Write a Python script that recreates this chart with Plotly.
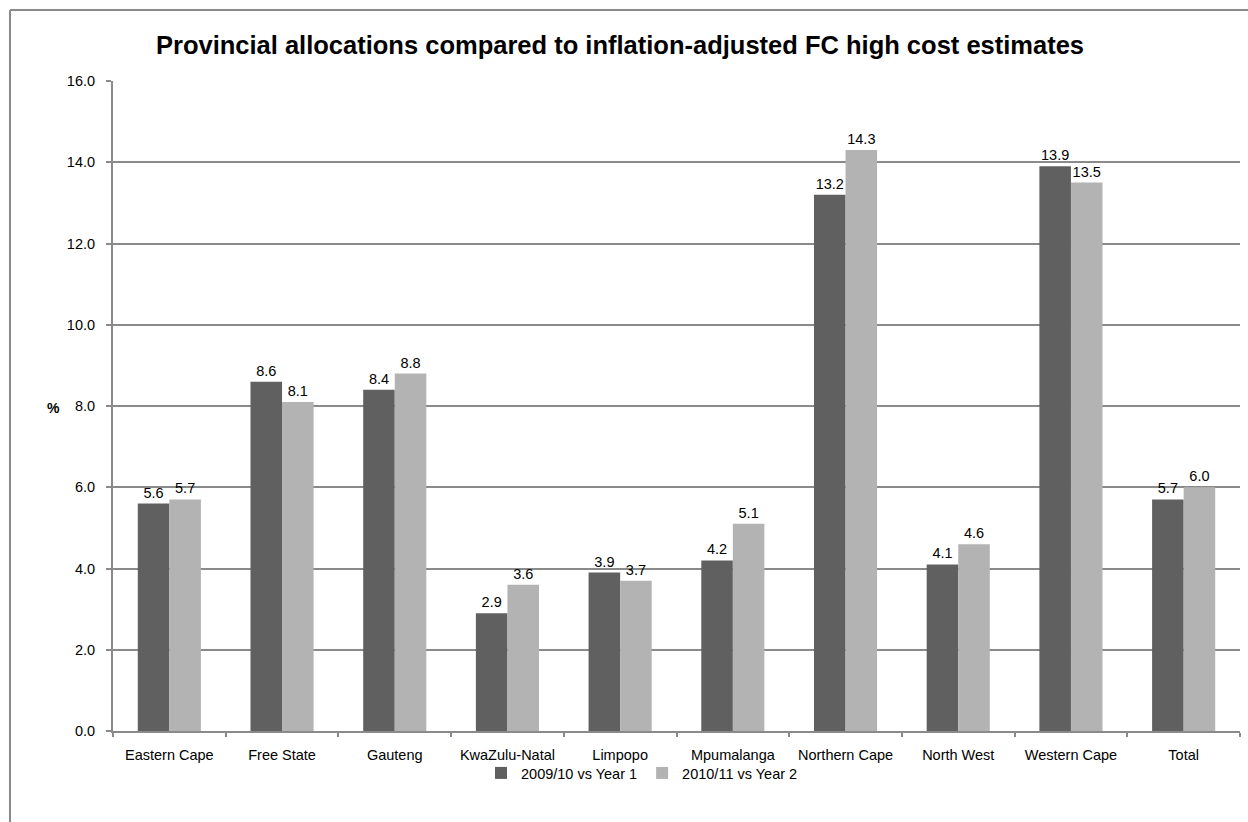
import plotly.graph_objects as go

categories = ["Eastern Cape", "Free State", "Gauteng", "KwaZulu-Natal", "Limpopo",
              "Mpumalanga", "Northern Cape", "North West", "Western Cape", "Total"]
series1_name = "2009/10 vs Year 1"
series1 = [5.6, 8.6, 8.4, 2.9, 3.9, 4.2, 13.2, 4.1, 13.9, 5.7]
series2_name = "2010/11 vs Year 2"
series2 = [5.7, 8.1, 8.8, 3.6, 3.7, 5.1, 14.3, 4.6, 13.5, 6.0]
y_ticks = [0, 2, 4, 6, 8, 10, 12, 14, 16]

FONT = "Liberation Sans, Arial, sans-serif"
GRID = "#8a8a8a"
FS = 14.5

fig = go.Figure()
fig.add_trace(go.Bar(
    x=categories, y=series1, name=series1_name,
    marker=dict(color="#606060", line=dict(width=0)),
    text=[f"{v:.1f}" for v in series1], textposition="outside",
    textfont=dict(size=FS, color="#000000", family=FONT), cliponaxis=False,
))
fig.add_trace(go.Bar(
    x=categories, y=series2, name=series2_name,
    marker=dict(color="#b3b3b3", line=dict(width=0)),
    text=[f"{v:.1f}" for v in series2], textposition="outside",
    textfont=dict(size=FS, color="#000000", family=FONT), cliponaxis=False,
))

W, H = 1248, 822
PL, PR, PT, PB = 113, 8, 81, 91
PW, PH = W - PL - PR, H - PT - PB
fx0 = (10 - PL) / PW
fy1 = (PH + PT - 10) / PH

fig.update_layout(
    width=W, height=H,
    margin=dict(l=PL, r=PR, t=PT, b=PB),
    paper_bgcolor="white", plot_bgcolor="white",
    font=dict(family=FONT, size=FS, color="#000000"),
    barmode="group", bargap=0.44, bargroupgap=0,
    title=dict(text="<b>Provincial allocations compared to inflation-adjusted FC high cost estimates</b>",
               x=(620 / W), xanchor="center", y=1 - 45 / H, yanchor="middle",
               font=dict(size=25.5, family=FONT, color="#000000")),
    showlegend=True,
    legend=dict(orientation="h", x=(642 - PL) / PW, xanchor="center", y=(PT + PH - 773) / PH,
                yanchor="middle",
                font=dict(size=FS, family=FONT), traceorder="normal",
                itemwidth=30, bgcolor="rgba(0,0,0,0)"),
    xaxis=dict(
        showline=True, linecolor=GRID, linewidth=2,
        ticks="outside", tickson="boundaries", ticklen=4, tickcolor=GRID, tickwidth=2,
        showgrid=False, tickfont=dict(size=FS, family=FONT), ticklabelstandoff=10,
    ),
    yaxis=dict(
        range=[0, 16], tickvals=y_ticks, ticktext=[f"{v:.1f}" for v in y_ticks],
        showline=True, linecolor=GRID, linewidth=2,
        ticks="outside", ticklen=5, tickcolor=GRID, tickwidth=2,
        showgrid=True, gridcolor=GRID, gridwidth=2,
        tickfont=dict(size=FS, family=FONT), zeroline=False, ticklabelstandoff=8,
    ),
    annotations=[dict(text="<b>%</b>", x=(45 - PL) / PW, xref="paper", y=0.497, yref="paper",
                      showarrow=False, font=dict(size=14, family=FONT))],
    shapes=[
        dict(type="line", xref="paper", yref="paper", x0=fx0, x1=1.05, y0=fy1, y1=fy1,
             line=dict(color=GRID, width=2), layer="below"),
        dict(type="line", xref="paper", yref="paper", x0=fx0, x1=fx0, y0=fy1, y1=-0.2,
             line=dict(color=GRID, width=2), layer="below"),
    ],
)

fig.write_html(
    "out.html",
    config={"displayModeBar": False},
    post_script="document.documentElement.style.overflow='hidden';"
                "document.body.style.margin='0';document.body.style.overflow='hidden';",
)
